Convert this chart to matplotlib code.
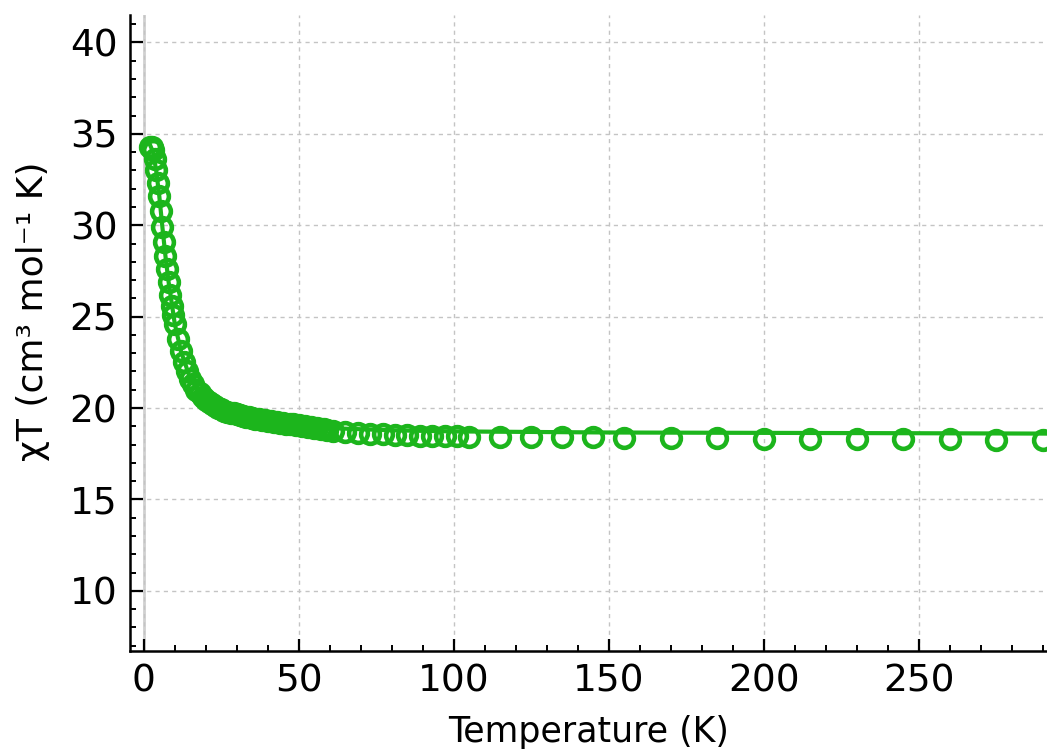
import numpy as np
import matplotlib
matplotlib.use("Agg")
import matplotlib.pyplot as plt
from matplotlib.ticker import MultipleLocator

# measured chiT data
temp = [2, 2.5, 3, 3.5, 4, 4.5, 5, 5.5, 6, 6.5, 7, 7.5, 8, 8.5, 9, 9.5,
        10, 11, 12, 13, 14, 15, 16, 17, 18, 19, 20, 21, 22, 23, 24, 25, 26,
        27, 28, 29, 30, 31, 32, 33, 34, 35, 36, 37, 38, 39, 40, 41, 42, 43,
        44, 45, 46, 47, 48, 49, 50, 51, 52, 53, 54, 55, 56, 57, 58, 59, 61,
        65, 69, 73, 77, 81, 85, 89, 93, 97, 101, 105, 115, 125, 135, 145,
        155, 170, 185, 200, 215, 230, 245, 260, 275, 290]
chit = [34.3, 34.3, 34.1, 33.6, 33.0, 32.3, 31.6, 30.8, 29.9, 29.1, 28.3,
        27.6, 26.9, 26.2, 25.6, 25.1,
        24.6, 23.8, 23.1, 22.5, 22.0, 21.6, 21.3, 21.0, 20.8, 20.6, 20.45,
        20.32, 20.2, 20.1, 20.0, 19.92, 19.85, 19.8, 19.75, 19.7, 19.65,
        19.6, 19.55, 19.52, 19.5, 19.46, 19.42, 19.39, 19.36, 19.33, 19.3,
        19.27, 19.25, 19.22, 19.2, 19.17, 19.15, 19.12, 19.1, 19.07, 19.05,
        19.02, 19.0, 18.97, 18.95, 18.92, 18.9, 18.87, 18.85, 18.82, 18.75,
        18.68, 18.63, 18.59, 18.56, 18.53, 18.51, 18.49, 18.47, 18.46, 18.45,
        18.44, 18.42, 18.41, 18.4, 18.39, 18.38, 18.36, 18.34, 18.32,
        18.31, 18.3, 18.29, 18.28, 18.27, 18.26]

# fitted curve
temp_fit = [2, 3, 4, 5, 6, 7, 8, 10, 12, 15, 20, 25, 30, 40, 50, 60, 80,
            100, 150, 200, 250, 292]
chit_fit = [34.4, 34.0, 33.0, 31.6, 29.9, 28.3, 26.9, 24.6, 23.1, 21.6,
            20.45, 19.95, 19.65, 19.3, 19.05, 18.9, 18.78, 18.72, 18.66,
            18.64, 18.62, 18.6]

green = "#1cb51c"

fig = plt.figure(figsize=(10.47, 7.51), dpi=100)
ax = fig.add_axes([0.124, 0.133, 0.876, 0.847])

ax.plot(temp_fit, chit_fit, color=green, lw=3, zorder=3)
ax.plot(temp, chit, linestyle="none", marker="o", ms=13.5, mfc="none",
        mec=green, mew=3.3, zorder=4)

ax.axvline(0, color="#d0d0d0", lw=2, zorder=1)

ax.set_xlim(-4.5, 291.3)
ax.set_ylim(6.7, 41.5)
ax.xaxis.set_major_locator(MultipleLocator(50))
ax.xaxis.set_minor_locator(MultipleLocator(10))
ax.yaxis.set_major_locator(MultipleLocator(5))
ax.yaxis.set_minor_locator(MultipleLocator(1))
ax.set_yticks([10, 15, 20, 25, 30, 35, 40])

ax.grid(True, which="major", color="#c4c4c4", linestyle=(0, (3, 3)), lw=1)

for s in ["top", "right"]:
    ax.spines[s].set_visible(False)
for s in ["left", "bottom"]:
    ax.spines[s].set_linewidth(1.8)

ax.tick_params(which="major", direction="in", length=9, width=1.6,
               labelsize=27, pad=9)
ax.tick_params(which="minor", direction="in", length=4.5, width=1.4)

ax.set_xlabel("Temperature (K)", fontsize=25, labelpad=11)
ax.set_ylabel("χT (cm³ mol⁻¹ K)", fontsize=26)
ax.yaxis.set_label_coords(-0.087, 0.535)

fig.savefig("out.png", dpi=100)
